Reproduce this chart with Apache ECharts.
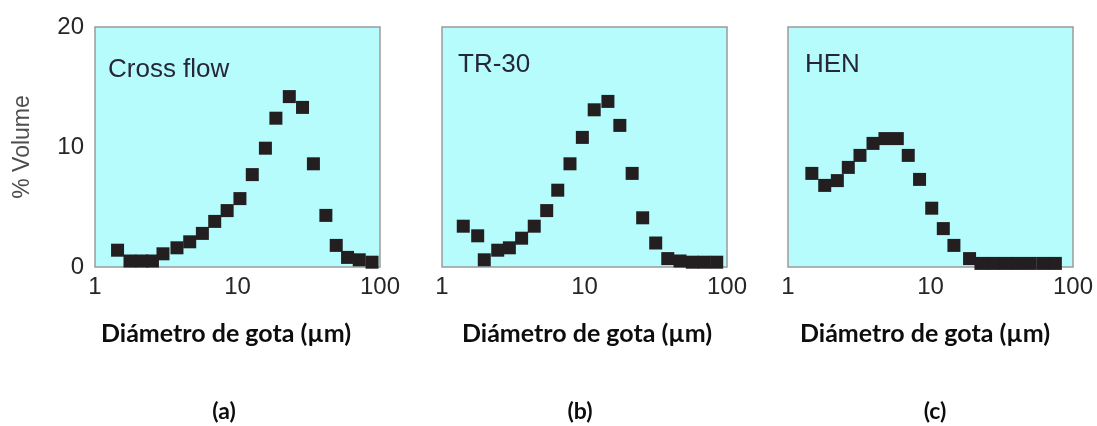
<!DOCTYPE html>
<html>
<head>
<meta charset="utf-8">
<script src="https://cdn.jsdelivr.net/npm/echarts@6/dist/echarts.min.js"></script>
<style>
html,body{margin:0;padding:0;background:#fff;}
#chart{width:1097px;height:426px;}
</style>
</head>
<body>
<div id="chart"></div>
<script>
// Panel titles and labels
const panelNames = ["Cross flow", "TR-30", "HEN"];
const panelTags = ["(a)", "(b)", "(c)"];
const xAxisTitle = "Diámetro de gota (µm)";
const yAxisTitle = "% Volume";
const yTicks = [0, 10, 20];
const xTicks = [1, 10, 100];

// Cross flow
const crossX = [1.44, 1.76, 2.13, 2.53, 3.0, 3.76, 4.62, 5.67, 6.92, 8.46, 10.4, 12.7, 15.7, 18.6, 23.1, 28.6, 34.1, 41.7, 49.3, 59.2, 71.5, 87.9];
const crossY = [1.4, 0.5, 0.5, 0.5, 1.1, 1.6, 2.1, 2.8, 3.8, 4.7, 5.7, 7.7, 9.9, 12.4, 14.2, 13.3, 8.6, 4.3, 1.8, 0.8, 0.6, 0.4];
// TR-30
const tr30X = [1.41, 1.78, 1.98, 2.46, 2.97, 3.62, 4.44, 5.43, 6.49, 7.91, 9.66, 11.7, 14.6, 17.7, 21.6, 25.6, 31.6, 38.4, 46.8, 57.1, 69.3, 84.7];
const tr30Y = [3.4, 2.6, 0.6, 1.4, 1.6, 2.4, 3.4, 4.7, 6.4, 8.6, 10.8, 13.1, 13.8, 11.8, 7.8, 4.1, 2.0, 0.7, 0.5, 0.4, 0.4, 0.4];
// HEN
const henX = [1.47, 1.81, 2.22, 2.65, 3.2, 3.95, 4.79, 5.85, 6.98, 8.38, 10.2, 12.3, 14.6, 18.8, 22.6, 27.5, 33.5, 40.8, 50.1, 61.6, 75.2];
const henY = [7.8, 6.8, 7.2, 8.3, 9.3, 10.3, 10.7, 10.7, 9.3, 7.3, 4.9, 3.2, 1.8, 0.7, 0.3, 0.3, 0.3, 0.3, 0.3, 0.3, 0.3];

const seriesX = [crossX, tr30X, henX];
const seriesY = [crossY, tr30Y, henY];

const gridLeft = [95, 442, 788];
const gridW = 285;
const tagCenters = [224, 580, 935];
const xTitleLeft = [101, 462, 800];
const nameOffsets = [[108, 57], [458, 52], [805, 52]];

const chart = echarts.init(document.getElementById('chart'));

const grids = [], xAxes = [], yAxes = [], series = [], graphics = [];
for (let i = 0; i < 3; i++) {
  grids.push({
    left: gridLeft[i], top: 27, width: gridW, height: 240,
    show: true, backgroundColor: '#b6fcfd', borderColor: '#9a9a9a', borderWidth: 1.5
  });
  xAxes.push({
    type: 'log', logBase: 10, min: xTicks[0], max: xTicks[xTicks.length - 1], gridIndex: i,
    axisLine: {show: false}, axisTick: {show: false}, splitLine: {show: false},
    axisLabel: {show: true, margin: 8, color: '#262626', fontFamily: 'Liberation Sans', fontSize: 24,
      formatter: v => String(v)}
  });
  yAxes.push({
    type: 'value', min: yTicks[0], max: yTicks[yTicks.length - 1], interval: 10, gridIndex: i,
    axisLine: {show: false}, axisTick: {show: false}, splitLine: {show: false},
    axisLabel: {show: i === 0, margin: 11, color: '#262626', fontFamily: 'Liberation Sans', fontSize: 24},
    name: i === 0 ? yAxisTitle : '', nameLocation: 'middle', nameRotate: 90, nameGap: 61,
    nameTextStyle: {color: '#4d4d4d', fontFamily: 'Liberation Sans', fontSize: 23}
  });
  series.push({
    type: 'scatter', xAxisIndex: i, yAxisIndex: i, symbol: 'rect', symbolSize: 13,
    itemStyle: {color: '#231f20', opacity: 1},
    data: seriesX[i].map((x, k) => [x, seriesY[i][k]])
  });
  graphics.push({
    type: 'text', left: nameOffsets[i][0], top: nameOffsets[i][1],
    style: {text: panelNames[i], fill: '#26263a', font: '26px "Liberation Sans"'}
  });
  graphics.push({
    type: 'text', left: xTitleLeft[i], top: 321,
    style: {text: xAxisTitle, fill: '#0d0d0d', font: 'bold 25px Lato'}
  });
  graphics.push({
    type: 'text', x: tagCenters[i], y: 412,
    style: {text: panelTags[i], fill: '#0d0d0d', font: 'bold 23px Lato', textAlign: 'center', textVerticalAlign: 'middle'}
  });
}

chart.setOption({
  animation: false,
  grid: grids, xAxis: xAxes, yAxis: yAxes, series: series, graphic: graphics
});
</script>
</body>
</html>
